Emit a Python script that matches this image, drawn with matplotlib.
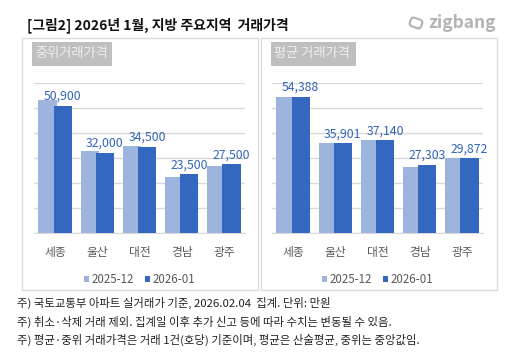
import matplotlib
matplotlib.use("Agg")
import numpy as np
import matplotlib.pyplot as plt
import matplotlib.patches as mpatches
from matplotlib.transforms import Affine2D

plt.rcParams['font.family'] = ['Noto Sans CJK KR', 'DejaVu Sans']

# ── data ──────────────────────────────────────────────────────────────────────
regions = ["세종", "울산", "대전", "경남", "광주"]
series = ["2025-12", "2026-01"]
median_dec = [53300, 32800, 34900, 22500, 27000]
median_jan = [50900, 32000, 34500, 23500, 27500]
mean_dec = [54300, 35900, 37300, 26600, 30000]
mean_jan = [54388, 35901, 37140, 27303, 29872]
panel_titles = ["중위거래가격", "평균 거래가격"]
title = "[그림2] 2026년 1월, 지방 주요지역  거래가격"
notes = [
    "주) 국토교통부 아파트 실거래가 기준, 2026.02.04  집계. 단위: 만원",
    "주) 취소·삭제 거래 제외. 집계일 이후 추가 신고 등에 따라 수치는 변동될 수 있음.",
    "주) 평균·중위 거래가격은 거래 1건(호당) 기준이며, 평균은 산술평균, 중위는 중앙값임.",
]

W, H = 512, 359
LIGHT = "#9db4df"
DARK = "#3468c0"
LABEL = "#3464b8"
GRID = "#d9d9d9"

fig = plt.figure(figsize=(W / 100, H / 100), dpi=100)
fig.patch.set_facecolor("white")


def fx(px):
    return px / W


def fy(py):
    return 1 - py / H


# ── panel frames ──────────────────────────────────────────────────────────────
for x0, x1 in [(22, 258), (261, 497)]:
    fig.patches.append(mpatches.Rectangle((fx(x0), fy(290)), fx(x1 - x0), (290 - 38) / H,
                                          transform=fig.transFigure, fill=False,
                                          edgecolor="#dcdcdc", linewidth=1.0))

# ── panel title boxes ─────────────────────────────────────────────────────────
for (x0, x1), t in zip([(32, 112), (271, 356)], panel_titles):
    fig.patches.append(mpatches.Rectangle((fx(x0), fy(66)), fx(x1 - x0), 24 / H,
                                          transform=fig.transFigure, facecolor="#bfbfbf",
                                          edgecolor="none"))
    fig.text(fx(x0 + 3), fy(54), t, fontsize=9.5, color="#efefef", ha="left", va="center")


def draw_panel(left_px, dec, jan):
    ax = fig.add_axes([fx(left_px), fy(233), fx(211), 150 / H])
    x = np.arange(len(regions))
    w = 0.43
    off = 0.18
    ax.bar(x - off, dec, width=w, color=LIGHT, zorder=2, label=series[0])
    ax.bar(x + off, jan, width=w, color=DARK, zorder=3, label=series[1])
    for xi, v in zip(x, jan):
        ax.text(xi + off, v + 1200, f"{v:,}", ha="center", va="bottom",
                fontsize=8.8, color=LABEL)
    ax.set_xlim(-0.5, len(regions) - 0.5)
    ax.set_ylim(0, 60000)
    ax.set_yticks(np.arange(0, 60001, 10000))
    ax.yaxis.grid(True, color=GRID, linewidth=1.0, zorder=0)
    ax.set_axisbelow(True)
    ax.tick_params(axis="y", left=False, labelleft=False)
    ax.tick_params(axis="x", bottom=False, labelsize=8.5, labelcolor="#595959", pad=6)
    ax.set_xticks(x)
    ax.set_xticklabels(regions)
    for s in ["top", "right", "left"]:
        ax.spines[s].set_visible(False)
    ax.spines["bottom"].set_color(GRID)
    ax.patch.set_alpha(0)
    leg = ax.legend(loc="upper center", bbox_to_anchor=(0.5, -0.2), ncol=2, frameon=False,
                    fontsize=8.3, handlelength=0.4, handleheight=0.4, handletextpad=0.2,
                    columnspacing=1.0)
    for t in leg.get_texts():
        t.set_color("#595959")
    return ax


draw_panel(34, median_dec, median_jan)
draw_panel(272, mean_dec, mean_jan)

# ── title and logo ────────────────────────────────────────────────────────────
fig.text(fx(27), fy(25), title, fontsize=10, ha="left", va="center", color="#111111",
         fontweight="bold")
fig.text(fx(428), fy(23), "zigbang", fontsize=12.5, ha="left", va="center",
         color="#b4b4b4", fontweight="bold")
# logo mark: tilted rounded square outline, drawn in pixel space
icon = mpatches.FancyBboxPatch((-6, -4.5), 12, 9,
                               boxstyle="round,pad=0,rounding_size=3.5",
                               fill=False, edgecolor="#b4b4b4", linewidth=1.6)
icon.set_transform(Affine2D().rotate_deg(-20).translate(416, H - 23))
fig.patches.append(icon)

# ── footnotes ─────────────────────────────────────────────────────────────────
for i, n in enumerate(notes):
    fig.text(fx(17), fy(303 + 18.5 * i), n, fontsize=8.2, ha="left", va="center",
             color="#222222")

fig.savefig("out.png", dpi=100)
